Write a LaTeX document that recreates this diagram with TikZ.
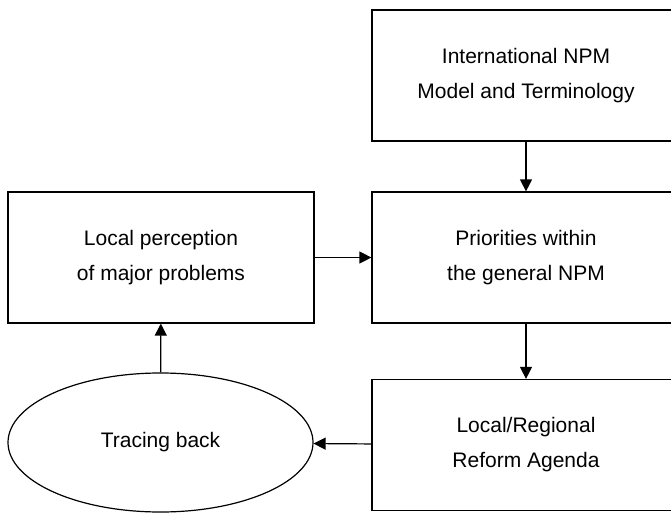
\documentclass[tikz,border=0pt]{standalone}
\usepackage{fontspec}
\setmainfont{Liberation Sans}
\usetikzlibrary{arrows.meta,shapes.geometric}

\tikzset{
  stage/.style={draw, line width=1.2pt, minimum width=308pt, minimum height=131pt,
    align=center, inner sep=0pt, font=\fontsize{21pt}{35pt}\selectfont},
  flow/.style={line width=1.2pt, -{Triangle[length=12pt,width=12pt]}}
}

\begin{document}
\begin{tikzpicture}[x=1pt,y=1pt]
                \useasboundingbox (0,0) rectangle (671,-513);
                \clip (0,0) rectangle (671,-513);
                \node[stage] (model) at (526,-75.5) {International NPM\\Model and Terminology};
                \node[stage] (prior) at (526,-257.5) {Priorities within\\the general NPM};
                \node[stage] (agenda) at (526,-445) {Local/Regional\\Reform Agenda};
                \node[stage, minimum width=306pt] (percep) at (161,-257.5) {Local perception\\of major problems};
                \node[stage, ellipse, minimum width=305pt, minimum height=139pt] (trace) at (160.5,-442.5) {Tracing back};
                \draw[flow] (model) -- (prior);
                \draw[flow] (prior) -- (agenda);
                \draw[flow] (percep) -- (prior);
                \draw[flow] (agenda) -- (trace);
                \draw[flow] (trace) -- (percep);
            \end{tikzpicture}
\end{document}
